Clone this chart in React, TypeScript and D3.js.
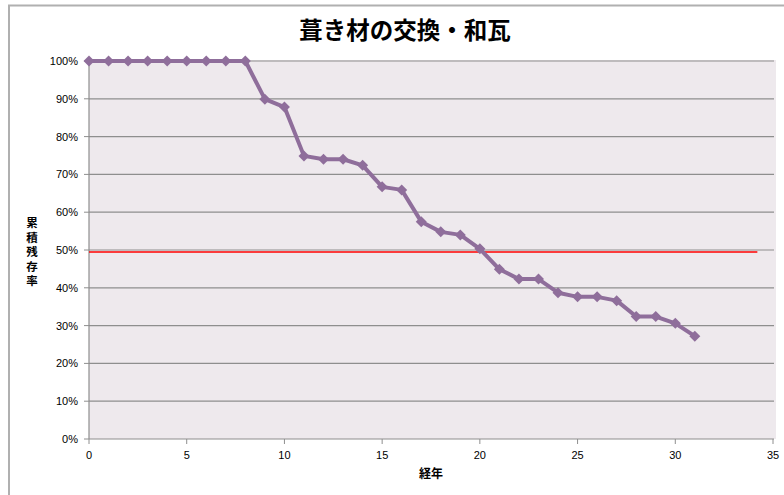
import React from "react";
import * as d3 from "d3";

const title = "葺き材の交換・和瓦";
const xLabel = "経年";
const yLabelChars = ["累", "積", "残", "存", "率"];
const years = [0,1,2,3,4,5,6,7,8,9,10,11,12,13,14,15,16,17,18,19,20,21,22,23,24,25,26,27,28,29,30,31];
const survival = [1,1,1,1,1,1,1,1,1,0.899,0.878,0.749,0.74,0.74,0.724,0.667,0.659,0.575,0.548,0.54,0.503,0.449,0.423,0.423,0.387,0.376,0.376,0.366,0.324,0.324,0.306,0.272];
const refLineX = [0, 34.2];
const refLineY = [0.495, 0.495];
const xTicks = [0,5,10,15,20,25,30,35];
const yTicks = [0,0.1,0.2,0.3,0.4,0.5,0.6,0.7,0.8,0.9,1];

export default function App() {
  const W = 784, H = 495;
  const x = d3.scaleLinear().domain([0, 35]).range([89, 773]);
  const y = d3.scaleLinear().domain([0, 1]).range([439, 61]);
  const pts = years.map((yr, i) => [x(yr), y(survival[i])] as [number, number]);
  const line = d3.line<[number, number]>()(pts) || "";
  const refPts = refLineX.map((v, i) => [x(v), y(refLineY[i])] as [number, number]);
  const refPath = d3.line<[number, number]>()(refPts) || "";
  const latin = "'Liberation Sans', Arial, sans-serif";
  const cjk = "'Noto Sans CJK JP', sans-serif";
  return (
    <svg width={W} height={H} style={{ position: "absolute", left: 0, top: 0 }}>
      <rect x={0} y={0} width={W} height={H} fill="#fff" />
      <rect x={9} y={5.5} width={W + 10} height={H + 10} fill="#fff" stroke="#b0b0b0" strokeWidth={2} />
      <text x={405} y={39} textAnchor="middle" fontFamily={cjk} fontWeight="bold" fontSize={23.5} fill="#000">{title}</text>
      <rect x={89} y={60} width={687} height={379} fill="#eee9ed" />
      {yTicks.filter(t => t > 0).map(t => (
        <line key={t} x1={89} x2={774} y1={y(t)} y2={y(t)} stroke="#8e8e8e" strokeWidth={1.2} />
      ))}
      <line x1={89} x2={89} y1={60} y2={439} stroke="#8e8e8e" strokeWidth={1.2} />
      <line x1={89} x2={774} y1={439} y2={439} stroke="#8e8e8e" strokeWidth={1.2} />
      {yTicks.map(t => (
        <g key={t}>
          <line x1={84} x2={89} y1={y(t)} y2={y(t)} stroke="#8e8e8e" />
          <text x={78} y={y(t) + 4} textAnchor="end" fontFamily={latin} fontSize={11} fill="#000">{Math.round(t * 100) + "%"}</text>
        </g>
      ))}
      {xTicks.map(t => (
        <g key={t}>
          <line x1={x(t)} x2={x(t)} y1={439} y2={444} stroke="#8e8e8e" />
          <text x={x(t)} y={459} textAnchor="middle" fontFamily={latin} fontSize={11} fill="#000">{t}</text>
        </g>
      ))}
      <text x={431} y={478} textAnchor="middle" fontFamily={cjk} fontWeight="bold" fontSize={12} fill="#000">{xLabel}</text>
      {yLabelChars.map((c, i) => (
        <text key={i} x={32} y={227 + i * 14.5} textAnchor="middle" fontFamily={cjk} fontWeight="bold" fontSize={11.5} fill="#000">{c}</text>
      ))}
      <path d={refPath} fill="none" stroke="#ff0000" strokeWidth={1.5} />
      <path d={line} fill="none" stroke="#8f6e9b" strokeWidth={4} strokeLinejoin="round" />
      {pts.map((p, i) => (
        <path key={i} d={`M${p[0]},${p[1] - 5.5}L${p[0] + 5.5},${p[1]}L${p[0]},${p[1] + 5.5}L${p[0] - 5.5},${p[1]}Z`} fill="#8f6e9b" />
      ))}
    </svg>
  );
}
